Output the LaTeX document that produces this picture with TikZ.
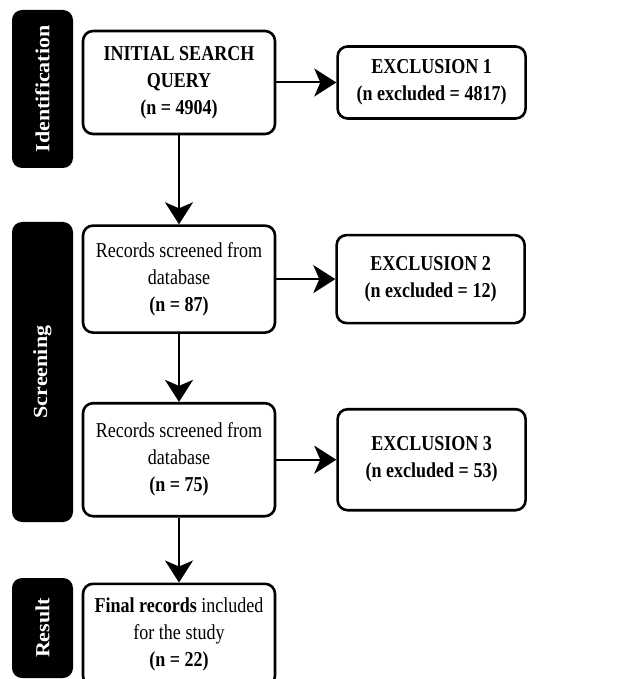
\documentclass[tikz,border=0pt]{standalone}
\usepackage{fontspec}
\setmainfont{Liberation Serif}[FakeStretch=0.85]
\newfontfamily\phasefont{Liberation Serif}[FakeStretch=1.1]
\usetikzlibrary{positioning, arrows.meta}
\tikzset{
  >={Stealth[length=11pt, width=14pt, inset=3pt]},
  every node/.style={font=\fontsize{10.6}{13.5}\selectfont},
  stage/.style={draw, line width=1.3pt, rounded corners=5pt, align=center,
                minimum width=96pt, fill=white},
  excl/.style={stage, minimum width=94pt, font=\fontsize{10.6}{13.5}\selectfont\bfseries},
  phase/.style={fill=black, rounded corners=5pt, text=white, rotate=90,
                font=\phasefont\fontsize{10}{12}\selectfont\bfseries, minimum height=30.5pt},
  link/.style={->, line width=1pt},
}

\begin{document}
\begin{tikzpicture}
  \useasboundingbox (0,0) rectangle (311pt,-339.5pt);

  % phases
  \node[phase, minimum width=79pt]  (ident)  at (21.25pt,-44.5pt) {Identification};
  \node[phase, minimum width=150pt] (screen) at (21.25pt,-186pt)  {Screening};
  \node[phase, minimum width=50pt]  (result) at (21.25pt,-314pt)  {Result};

  % main flow
  \node[stage, minimum height=51.5pt] (init) at (89.5pt,-41.25pt)
       {\textbf{INITIAL SEARCH}\\ \textbf{QUERY}\\ \textbf{(n = 4904)}};
  \node[stage, minimum height=53.5pt, below=44.5pt of init] (rec1)
       {Records screened from\\ database\\ \textbf{(n = 87)}};
  \node[stage, minimum height=56.5pt, below=34pt of rec1] (rec2)
       {Records screened from\\ database\\ \textbf{(n = 75)}};
  \node[stage, minimum height=51pt, below=32.5pt of rec2] (final)
       {\textbf{Final records} included\\ for the study\\ \textbf{(n = 22)}};

  % exclusions
  \node[excl, minimum height=36pt, right=30pt of init]   (ex1) {EXCLUSION 1\\ (n excluded = 4817)};
  \node[excl, minimum height=44pt, right=29.5pt of rec1] (ex2) {EXCLUSION 2\\ (n excluded = 12)};
  \node[excl, minimum height=50.5pt, right=30pt of rec2] (ex3) {EXCLUSION 3\\ (n excluded = 53)};

  \draw[link] (init) -- (ex1);
  \draw[link] (rec1) -- (ex2);
  \draw[link] (rec2) -- (ex3);
  \draw[link] (init) -- (rec1);
  \draw[link] (rec1) -- (rec2);
  \draw[link] (rec2) -- (final);
\end{tikzpicture}
\end{document}
